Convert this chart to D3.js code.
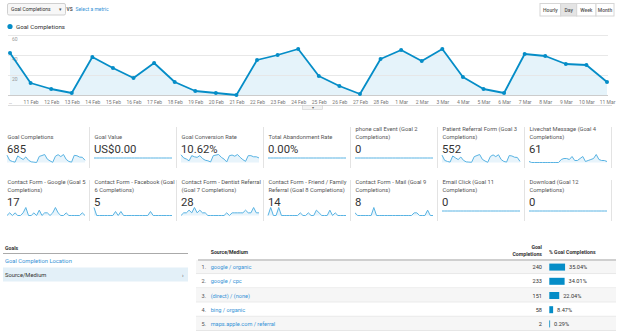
<!DOCTYPE html>
<html><head><meta charset="utf-8">
<script src="https://cdn.jsdelivr.net/npm/d3@7"></script>
<style>
html,body{margin:0;padding:0;background:#fff;}
svg{display:block;font-family:Roboto,"Noto Sans",Arial,sans-serif;}
</style></head><body>
<svg id="c" width="624" height="332"></svg>
<script>
// ---------- DATA ----------
const dates = ["10 Feb","11 Feb","12 Feb","13 Feb","14 Feb","15 Feb","16 Feb","17 Feb","18 Feb","19 Feb","20 Feb","21 Feb","22 Feb","23 Feb","24 Feb","25 Feb","26 Feb","27 Feb","28 Feb","1 Mar","2 Mar","3 Mar","4 Mar","5 Mar","6 Mar","7 Mar","8 Mar","9 Mar","10 Mar","11 Mar"];
const tickLabels = ["…","11 Feb","12 Feb","13 Feb","14 Feb","15 Feb","16 Feb","17 Feb","18 Feb","19 Feb","20 Feb","21 Feb","22 Feb","23 Feb","24 Feb","25 Feb","26 Feb","27 Feb","28 Feb","1 Mar","2 Mar","3 Mar","4 Mar","5 Mar","6 Mar","7 Mar","8 Mar","9 Mar","10 Mar","11 Mar"];
const goalCompletions = [42,12,6,2,38,27,17,32,13,4,2,0,35,40,46,19,9,1,36,45,34,46,18,6,2,41,39,31,30,13];
const yTicks = [20,40,60];
const intervalButtons = ["Hourly","Day","Week","Month"];
const selectedInterval = "Day";
const metricName = "Goal Completions";

const tileTitles = [
  ["Goal Completions"],
  ["Goal Value"],
  ["Goal Conversion Rate"],
  ["Total Abandonment Rate"],
  ["phone call Event (Goal 2","Completions)"],
  ["Patient Referral Form (Goal 3","Completions)"],
  ["Livechat Message (Goal 4","Completions)"],
  ["Contact Form - Google (Goal 5","Completions)"],
  ["Contact Form - Facebook (Goal","6 Completions)"],
  ["Contact Form - Dentist Referral","(Goal 7 Completions)"],
  ["Contact Form - Friend / Family","Referral (Goal 8 Completions)"],
  ["Contact Form - Mail (Goal 9","Completions)"],
  ["Email Click (Goal 11","Completions)"],
  ["Download (Goal 12","Completions)"]
];
const tileValues = ["685","US$0.00","10.62%","0.00%","0","552","61","17","5","28","14","8","0","0"];

const zeros = [0,0,0,0,0,0,0,0,0,0,0,0,0,0,0,0,0,0,0,0,0,0,0,0,0,0,0,0,0,0];
const sparkConversion = [13.5,8,6,3,12,10,9,12,7,4,3,1,12,13,14,9,6,1,12,13,11,14,9,5,2,12,12,10,10,8];
const sparkPatient = [35,10,5,2,31,22,14,26,10,3,2,1,28,33,38,15,7,1,29,36,28,37,14,5,2,33,31,25,24,5];
const sparkLivechat = [1,0,0,0,0,0,0,0,0,0,0,0,3,4,4,3,6,2,2,4,6,1,2,3,4,8,3,2,2,1];
const sparkGoogle = [0,1,0,1,0,0,1,3,0,0,1,0,2,0,1,1,0,1,3,1,0,0,1,0,0,0,0,0,1,0];
const sparkFacebook = [2,0,0,0,0,0,0,0,1,0,1,0,0,0,0,0,0,0,0,0,0,1,0,0,0,0,0,0,0,0];
const sparkDentist = [0,1,1,2,1,3,1,2,1,1,0,0,0,0,0,0,0,1,0,1,1,1,1,1,2,1,1,3,1,1];
const sparkFriend = [0,3,0,0,3,0,0,0,0,0,0,0,1,0,0,1,0,0,2,1,0,0,0,2,0,1,0,0,0,0];
const sparkMail = [1,0,0,0,0,0,0,3,0,0,0,0,0,0,0,0,0,0,0,0,0,0,1,1,0,0,0,2,0,0];
const tileSparks = [goalCompletions,zeros,sparkConversion,zeros,zeros,sparkPatient,sparkLivechat,
                    sparkGoogle,sparkFacebook,sparkDentist,sparkFriend,sparkMail,zeros,zeros];

const goalsMenu = ["Goal Completion Location","Source/Medium"];
const sources = ["google / organic","google / cpc","(direct) / (none)","bing / organic","maps.apple.com / referral"];
const sourceCompletions = [240,233,151,58,2];
const sourcePct = [35.04,34.01,22.04,8.47,0.29];

// ---------- DRAW ----------
const svg = d3.select("#c");
const BLUE = "#058dc7", LINK = "#3592d6";

// top controls
svg.append("rect").attr("x",7.5).attr("y",3.5).attr("width",58).attr("height",11.5)
  .attr("rx",1.5).attr("fill","#f7f7f7").attr("stroke","#cfcfcf");
svg.append("text").attr("x",11).attr("y",11.2).attr("font-size",5).attr("fill","#333").text(metricName);
svg.append("text").attr("x",59).attr("y",11.2).attr("font-size",5).attr("fill","#555").text("▾");
svg.append("text").attr("x",66.5).attr("y",11).attr("font-size",4.8).attr("font-weight","bold").attr("fill","#555").text("VS");
svg.append("text").attr("x",75.5).attr("y",11).attr("font-size",5).attr("fill",LINK).text("Select a metric");

const btnEdges = [540,560.7,576.7,596,614];
intervalButtons.forEach((b,i)=>{
  const x0 = btnEdges[i], x1 = btnEdges[i+1];
  svg.append("rect").attr("x",x0).attr("y",3.5).attr("width",x1-x0).attr("height",12.5)
    .attr("fill", b===selectedInterval ? "#e4e4e4" : "#fff").attr("stroke","#d6d6d6");
  svg.append("text").attr("x",(x0+x1)/2).attr("y",11.6).attr("text-anchor","middle")
    .attr("font-size",5).attr("font-weight","500").attr("fill","#555").text(b);
});

// legend
svg.append("circle").attr("cx",10).attr("cy",26.5).attr("r",2.6).attr("fill",BLUE);
svg.append("text").attr("x",16).attr("y",28.6).attr("font-size",6.2).attr("fill","#333").text(metricName);

// main chart
const x = d3.scalePoint().domain(dates).range([10,607]);
const y = d3.scaleLinear().domain([0,60]).range([95,35]);
const area = d3.area().x((d,i)=>x(dates[i])).y0(y(0)).y1(d=>y(d));
const line = d3.line().x((d,i)=>x(dates[i])).y(d=>y(d));
svg.append("path").datum(goalCompletions).attr("d",area).attr("fill","#e5f3fa");
yTicks.forEach(t=>{
  svg.append("line").attr("x1",8).attr("x2",608).attr("y1",y(t)+0.5).attr("y2",y(t)+0.5).attr("stroke","#e6e6e6").attr("stroke-opacity",0.9);
  svg.append("text").attr("x",12).attr("y",y(t)+6.3).attr("font-size",5).attr("fill","#999").text(t);
});
svg.append("line").attr("x1",8).attr("x2",608).attr("y1",y(0)+0.5).attr("y2",y(0)+0.5).attr("stroke","#cccccc");
svg.append("path").datum(goalCompletions).attr("d",line).attr("fill","none").attr("stroke",BLUE).attr("stroke-width",1.8).attr("stroke-linejoin","round");
svg.selectAll(".pt").data(goalCompletions).enter().append("circle")
  .attr("cx",(d,i)=>x(dates[i])).attr("cy",d=>y(d)).attr("r",2).attr("fill",BLUE);
const xAxis = d3.axisBottom(x).tickSize(0).tickFormat((d,i)=>tickLabels[i]);
const gx = svg.append("g").attr("transform",`translate(0,${y(0)+2})`).call(xAxis);
gx.select(".domain").remove();
gx.selectAll("text").attr("font-size",5).attr("fill","#777").attr("font-family","Roboto,Arial,sans-serif");
svg.append("line").attr("x1",8).attr("x2",612).attr("y1",105.5).attr("y2",105.5).attr("stroke","#dddddd");
svg.append("rect").attr("x",302.5).attr("y",105.5).attr("width",20).attr("height",4).attr("fill","#f3f3f3").attr("stroke","#cfcfcf").attr("stroke-width",0.6);
svg.append("text").attr("x",312.5).attr("y",109).attr("text-anchor","middle").attr("font-size",3.5).attr("fill","#666").text("▾");

// metric tiles
const tileW = 87;
tileTitles.forEach((title,k)=>{
  const col = k%7, row = Math.floor(k/7);
  const x0 = 3 + col*tileW, dy = row*53;
  const g = svg.append("g");
  const n = title.length;
  title.forEach((ln,j)=>{
    g.append("text").attr("x",x0+4.5).attr("y",139 + dy - (n-1-j)*7.6).attr("font-size",5.8).attr("fill","#555").text(ln);
  });
  g.append("text").attr("x",x0+4).attr("y",153.3+dy).attr("font-size",11.3).attr("fill","#333").text(tileValues[k]);
  g.append("line").attr("x1",x0+86.5).attr("x2",x0+86.5).attr("y1",127+dy).attr("y2",168+dy).attr("stroke","#e3e3e3");
  const vals = tileSparks[k];
  const sx = d3.scaleLinear().domain([0,vals.length-1]).range([x0+4,x0+82]);
  const mx = d3.max(vals);
  const top = 154.5+dy, bot = 162.5+dy;
  const sy = mx>0 ? d3.scaleLinear().domain([0,mx]).range([bot,top]) : (()=> (top+bot)/2 - 0.5);
  if (mx>0) {
    g.append("path").datum(vals).attr("d",d3.area().x((d,i)=>sx(i)).y0(bot).y1(d=>sy(d))).attr("fill","#e8f4fb");
  }
  g.append("path").datum(vals).attr("d",d3.line().x((d,i)=>sx(i)).y(d=>sy(d)))
    .attr("fill","none").attr("stroke","#58b3e3").attr("stroke-width",1).attr("stroke-linejoin","round");
});

// bottom left menu
svg.append("text").attr("x",5).attr("y",249.5).attr("font-size",5.2).attr("font-weight","bold").attr("fill","#333").text("Goals");
svg.append("line").attr("x1",3).attr("x2",188).attr("y1",253.5).attr("y2",253.5).attr("stroke","#aaa").attr("stroke-width",1);
svg.append("text").attr("x",5).attr("y",262.7).attr("font-size",5.8).attr("fill",LINK).text(goalsMenu[0]);
svg.append("rect").attr("x",3).attr("y",267.5).attr("width",185).attr("height",14).attr("fill","#e3f0f8");
svg.append("text").attr("x",5).attr("y",276.8).attr("font-size",5.8).attr("fill","#333").text(goalsMenu[1]);
svg.append("text").attr("x",182).attr("y",276.6).attr("font-size",5.5).attr("fill","#555").text("›");

// table
const tL = 196, tR = 616;
svg.append("text").attr("x",210.7).attr("y",253.5).attr("font-size",5.2).attr("font-weight","bold").attr("fill","#333").text("Source/Medium");
svg.append("text").attr("x",542).attr("y",248.8).attr("text-anchor","end").attr("font-size",5.2).attr("font-weight","bold").attr("fill","#333").text("Goal");
svg.append("text").attr("x",542).attr("y",256.3).attr("text-anchor","end").attr("font-size",5.2).attr("font-weight","bold").attr("fill","#333").text("Completions");
svg.append("text").attr("x",549).attr("y",253.5).attr("font-size",5.2).attr("font-weight","bold").attr("fill","#333").text("% Goal Completions");
const rowY = d3.scaleBand().domain(sources).range([260,331]);
const barW = d3.scaleLinear().domain([0,100]).range([0,45]);
sources.forEach((s,i)=>{
  const y0 = rowY(s), h = rowY.bandwidth(), cy = y0+h/2;
  svg.append("rect").attr("x",tL).attr("y",y0).attr("width",tR-tL).attr("height",h)
    .attr("fill", i%2===0 ? "#f6f6f6" : "#fff");
  svg.append("line").attr("x1",tL).attr("x2",tR).attr("y1",y0+h-0.5).attr("y2",y0+h-0.5).attr("stroke","#e6e6e6");
  svg.append("text").attr("x",201.5).attr("y",cy+2).attr("font-size",5.6).attr("fill","#555").text((i+1)+".");
  svg.append("text").attr("x",210.7).attr("y",cy+2).attr("font-size",5.6).attr("fill",LINK).text(s);
  svg.append("text").attr("x",542).attr("y",cy+2).attr("text-anchor","end").attr("font-size",5.6).attr("fill","#333").text(sourceCompletions[i]);
  const w = Math.max(barW(sourcePct[i]),0.8);
  svg.append("rect").attr("x",549.3).attr("y",cy-3.5).attr("width",w).attr("height",7).attr("fill",BLUE);
  svg.append("text").attr("x",549.3+w+4).attr("y",cy+2).attr("font-size",5.6).attr("fill","#333").text(sourcePct[i].toFixed(2)+"%");
});
svg.append("line").attr("x1",198).attr("x2",tR).attr("y1",260).attr("y2",260).attr("stroke","#cfcfcf").attr("stroke-width",2);
</script>
</body></html>
